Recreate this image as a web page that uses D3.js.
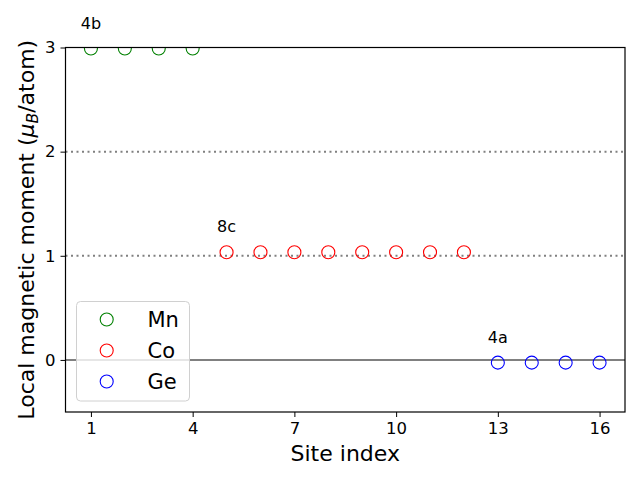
<!DOCTYPE html>
<html>
<head>
<meta charset="utf-8">
<script src="https://cdn.jsdelivr.net/npm/d3@7"></script>
<style>
  body { margin: 0; background: #fff; }
  text { font-family: "DejaVu Sans", sans-serif; }
</style>
</head>
<body>
<script>
const WIDTH = 640
const HEIGHT = 480

// data
const species = ["Mn", "Co", "Ge"]
const colors = ["green", "red", "blue"]
const siteLabels = ["4b", "8c", "4a"]
const mnSites = [1, 2, 3, 4]
const mnMoments = [2.99, 2.99, 2.99, 2.99]
const coSites = [5, 6, 7, 8, 9, 10, 11, 12]
const coMoments = [1.034, 1.034, 1.034, 1.034, 1.034, 1.034, 1.034, 1.034]
const geSites = [13, 14, 15, 16]
const geMoments = [-0.026, -0.026, -0.026, -0.026]
const xTicks = [1, 4, 7, 10, 13, 16]
const yTicks = [0, 1, 2, 3]
const refLines = [1, 2]

const groups = [
  {sites: mnSites, m: mnMoments},
  {sites: coSites, m: coMoments},
  {sites: geSites, m: geMoments}
]

const margin = {left: 65.5, right: 15, top: 47.5, bottom: 68}

const svg = d3.select("body")
  .append("svg")
  .attr("width", WIDTH)
  .attr("height", HEIGHT)

const x = d3.scaleLinear().domain([0.25, 16.75]).range([margin.left, WIDTH - margin.right])
const y = d3.scaleLinear().domain([-0.5, 3]).range([HEIGHT - margin.bottom, margin.top])

svg.append("defs").append("clipPath").attr("id", "clip")
  .append("rect")
  .attr("x", margin.left).attr("y", margin.top)
  .attr("width", x.range()[1] - margin.left)
  .attr("height", y.range()[0] - margin.top)

const plot = svg.append("g").attr("clip-path", "url(#clip)")

// horizontal guides
plot.selectAll("line.ref")
  .data(refLines)
  .enter()
  .append("line")
  .attr("x1", margin.left).attr("x2", x.range()[1])
  .attr("y1", d => y(d)).attr("y2", d => y(d))
  .attr("stroke", "#808080")
  .attr("stroke-width", 2)
  .attr("stroke-dasharray", "2,3.5")

plot.append("line")
  .attr("x1", margin.left).attr("x2", x.range()[1])
  .attr("y1", y(0)).attr("y2", y(0))
  .attr("stroke", "#808080")
  .attr("stroke-width", 2)

// markers
groups.forEach((g, i) => {
  plot.selectAll("circle.s" + i)
    .data(g.sites)
    .enter()
    .append("circle")
    .attr("cx", d => x(d))
    .attr("cy", (d, j) => y(g.m[j]))
    .attr("r", 6.5)
    .attr("fill", "none")
    .attr("stroke", colors[i])
    .attr("stroke-width", 1.1)

  svg.append("text")
    .attr("x", x(g.sites[0]))
    .attr("y", y(g.m[0] + 0.19))
    .attr("text-anchor", "middle")
    .attr("font-size", 16)
    .text(siteLabels[i])
})

// axes
const xAxis = svg.append("g")
  .attr("transform", `translate(0,${y.range()[0]})`)
  .call(d3.axisBottom(x).tickValues(xTicks).tickFormat(d3.format("d")).tickSize(5).tickPadding(5))
const yAxis = svg.append("g")
  .attr("transform", `translate(${margin.left},0)`)
  .call(d3.axisLeft(y).tickValues(yTicks).tickFormat(d3.format("d")).tickSize(5).tickPadding(5))

;[xAxis, yAxis].forEach(a => {
  a.select(".domain").remove()
  a.attr("font-size", 16.5).attr("font-family", "DejaVu Sans")
  a.selectAll("text").attr("fill", "#000")
  a.selectAll("line").attr("stroke", "#000").attr("stroke-width", 1)
})

svg.append("rect")
  .attr("x", margin.left).attr("y", margin.top)
  .attr("width", x.range()[1] - margin.left)
  .attr("height", y.range()[0] - margin.top)
  .attr("fill", "none")
  .attr("stroke", "#000")
  .attr("stroke-width", 1.2)

// axis labels
svg.append("text")
  .attr("x", (margin.left + x.range()[1]) / 2)
  .attr("y", 461)
  .attr("text-anchor", "middle")
  .attr("font-size", 22)
  .text("Site index")

const yl = svg.append("text")
  .attr("transform", `translate(34,${(margin.top + y.range()[0]) / 2}) rotate(-90)`)
  .attr("text-anchor", "middle")
  .attr("font-size", 22)
yl.append("tspan").text("Local magnetic moment (")
yl.append("tspan").attr("font-style", "italic").text("μ")
yl.append("tspan").attr("font-style", "italic").attr("font-size", 15.5).attr("dy", 4).text("B")
yl.append("tspan").attr("dy", -4).text("/atom)")

// legend
const legend = svg.append("g")
legend.append("rect")
  .attr("x", 76.5).attr("y", 301.5)
  .attr("width", 113).attr("height", 99.5)
  .attr("rx", 4)
  .attr("fill", "rgba(255,255,255,0.8)")
  .attr("stroke", "#d0d0d0")
  .attr("stroke-width", 1)

species.forEach((s, i) => {
  const cy = 319.5 + i * 31
  legend.append("circle")
    .attr("cx", 106.7).attr("cy", cy).attr("r", 6.5)
    .attr("fill", "none").attr("stroke", colors[i]).attr("stroke-width", 1.1)
  legend.append("text")
    .attr("x", 147.5).attr("y", cy + 7.5)
    .attr("font-size", 21)
    .text(s)
})
</script>
</body>
</html>
